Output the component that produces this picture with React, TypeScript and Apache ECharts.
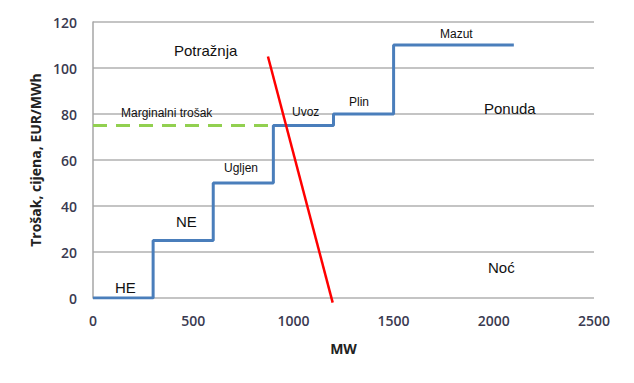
import React, { useEffect, useRef } from "react";
import * as echarts from "echarts";

const supplyCurve: [number, number][] = [
  [0, 0], [300, 0], [300, 25], [600, 25], [600, 50], [900, 50], [900, 75],
  [1200, 75], [1200, 80], [1500, 80], [1500, 110], [2100, 110],
];
const demandCurve: [number, number][] = [[873, 105], [1196, -2]];
const marginalCost: [number, number][] = [[0, 75], [900, 75]];

const annotations = [
  { text: "Potražnja", x: 174, y: 50, size: 15 },
  { text: "Marginalni trošak", x: 121, y: 113, size: 12 },
  { text: "Ugljen", x: 224, y: 168, size: 12 },
  { text: "NE", x: 176, y: 221, size: 15 },
  { text: "HE", x: 115, y: 287, size: 15 },
  { text: "Uvoz", x: 292, y: 112, size: 12 },
  { text: "Plin", x: 349, y: 102, size: 12 },
  { text: "Mazut", x: 440, y: 34, size: 12 },
  { text: "Ponuda", x: 484, y: 108, size: 15 },
  { text: "Noć", x: 488, y: 267, size: 15 },
];

export default function App() {
  const ref = useRef<HTMLDivElement>(null);
  useEffect(() => {
    if (!ref.current) return;
    const chart = echarts.init(ref.current, null, { renderer: "svg" });
    const tickFont = { fontFamily: "Open Sans", fontSize: 14, fontWeight: 600, color: "#3a3a50" };
    chart.setOption({
      animation: false,
      backgroundColor: "#ffffff",
      grid: { left: 93, right: 40, top: 22, bottom: 85 },
      xAxis: {
        type: "value",
        min: 0,
        max: 2500,
        interval: 500,
        name: "MW",
        nameLocation: "middle",
        nameGap: 43,
        nameTextStyle: { fontFamily: "Open Sans", fontWeight: "bold", fontSize: 14, color: "#222" },
        axisLine: { show: false },
        axisTick: { show: false },
        splitLine: { show: false },
        axisLabel: { ...tickFont, margin: 15, formatter: (v: number) => String(v) },
      },
      yAxis: {
        type: "value",
        min: 0,
        max: 120,
        interval: 20,
        name: "Trošak, cijena, EUR/MWh",
        nameLocation: "middle",
        nameGap: 49,
        nameTextStyle: { fontFamily: "Open Sans", fontWeight: "bold", fontSize: 14, color: "#222" },
        axisLine: { show: true, lineStyle: { color: "#a6a6a6", width: 1.5 } },
        axisTick: { show: false },
        splitLine: { show: true, lineStyle: { color: "#b0b0b0", width: 1.5 } },
        axisLabel: { ...tickFont, margin: 16, formatter: (v: number) => String(v) },
      },
      series: [
        {
          type: "line",
          data: marginalCost,
          symbol: "none",
          lineStyle: { color: "#92d050", width: 3, type: [14, 9] },
        },
        {
          type: "line",
          data: supplyCurve,
          symbol: "none",
          lineStyle: { color: "#4a7ebb", width: 3 },
        },
        {
          type: "line",
          data: demandCurve,
          symbol: "none",
          clip: false,
          lineStyle: { color: "#ff0000", width: 2.5 },
        },
      ],
      graphic: annotations.map((a) => ({
        type: "text",
        x: a.x,
        y: a.y,
        style: {
          text: a.text,
          fontFamily: "Liberation Sans",
          fontSize: a.size,
          fill: "#111",
          textVerticalAlign: "middle",
        },
        z: 10,
      })),
    });
    return () => chart.dispose();
  }, []);
  return <div ref={ref} style={{ width: 634, height: 383, position: "absolute", left: 0, top: 0 }} />;
}
